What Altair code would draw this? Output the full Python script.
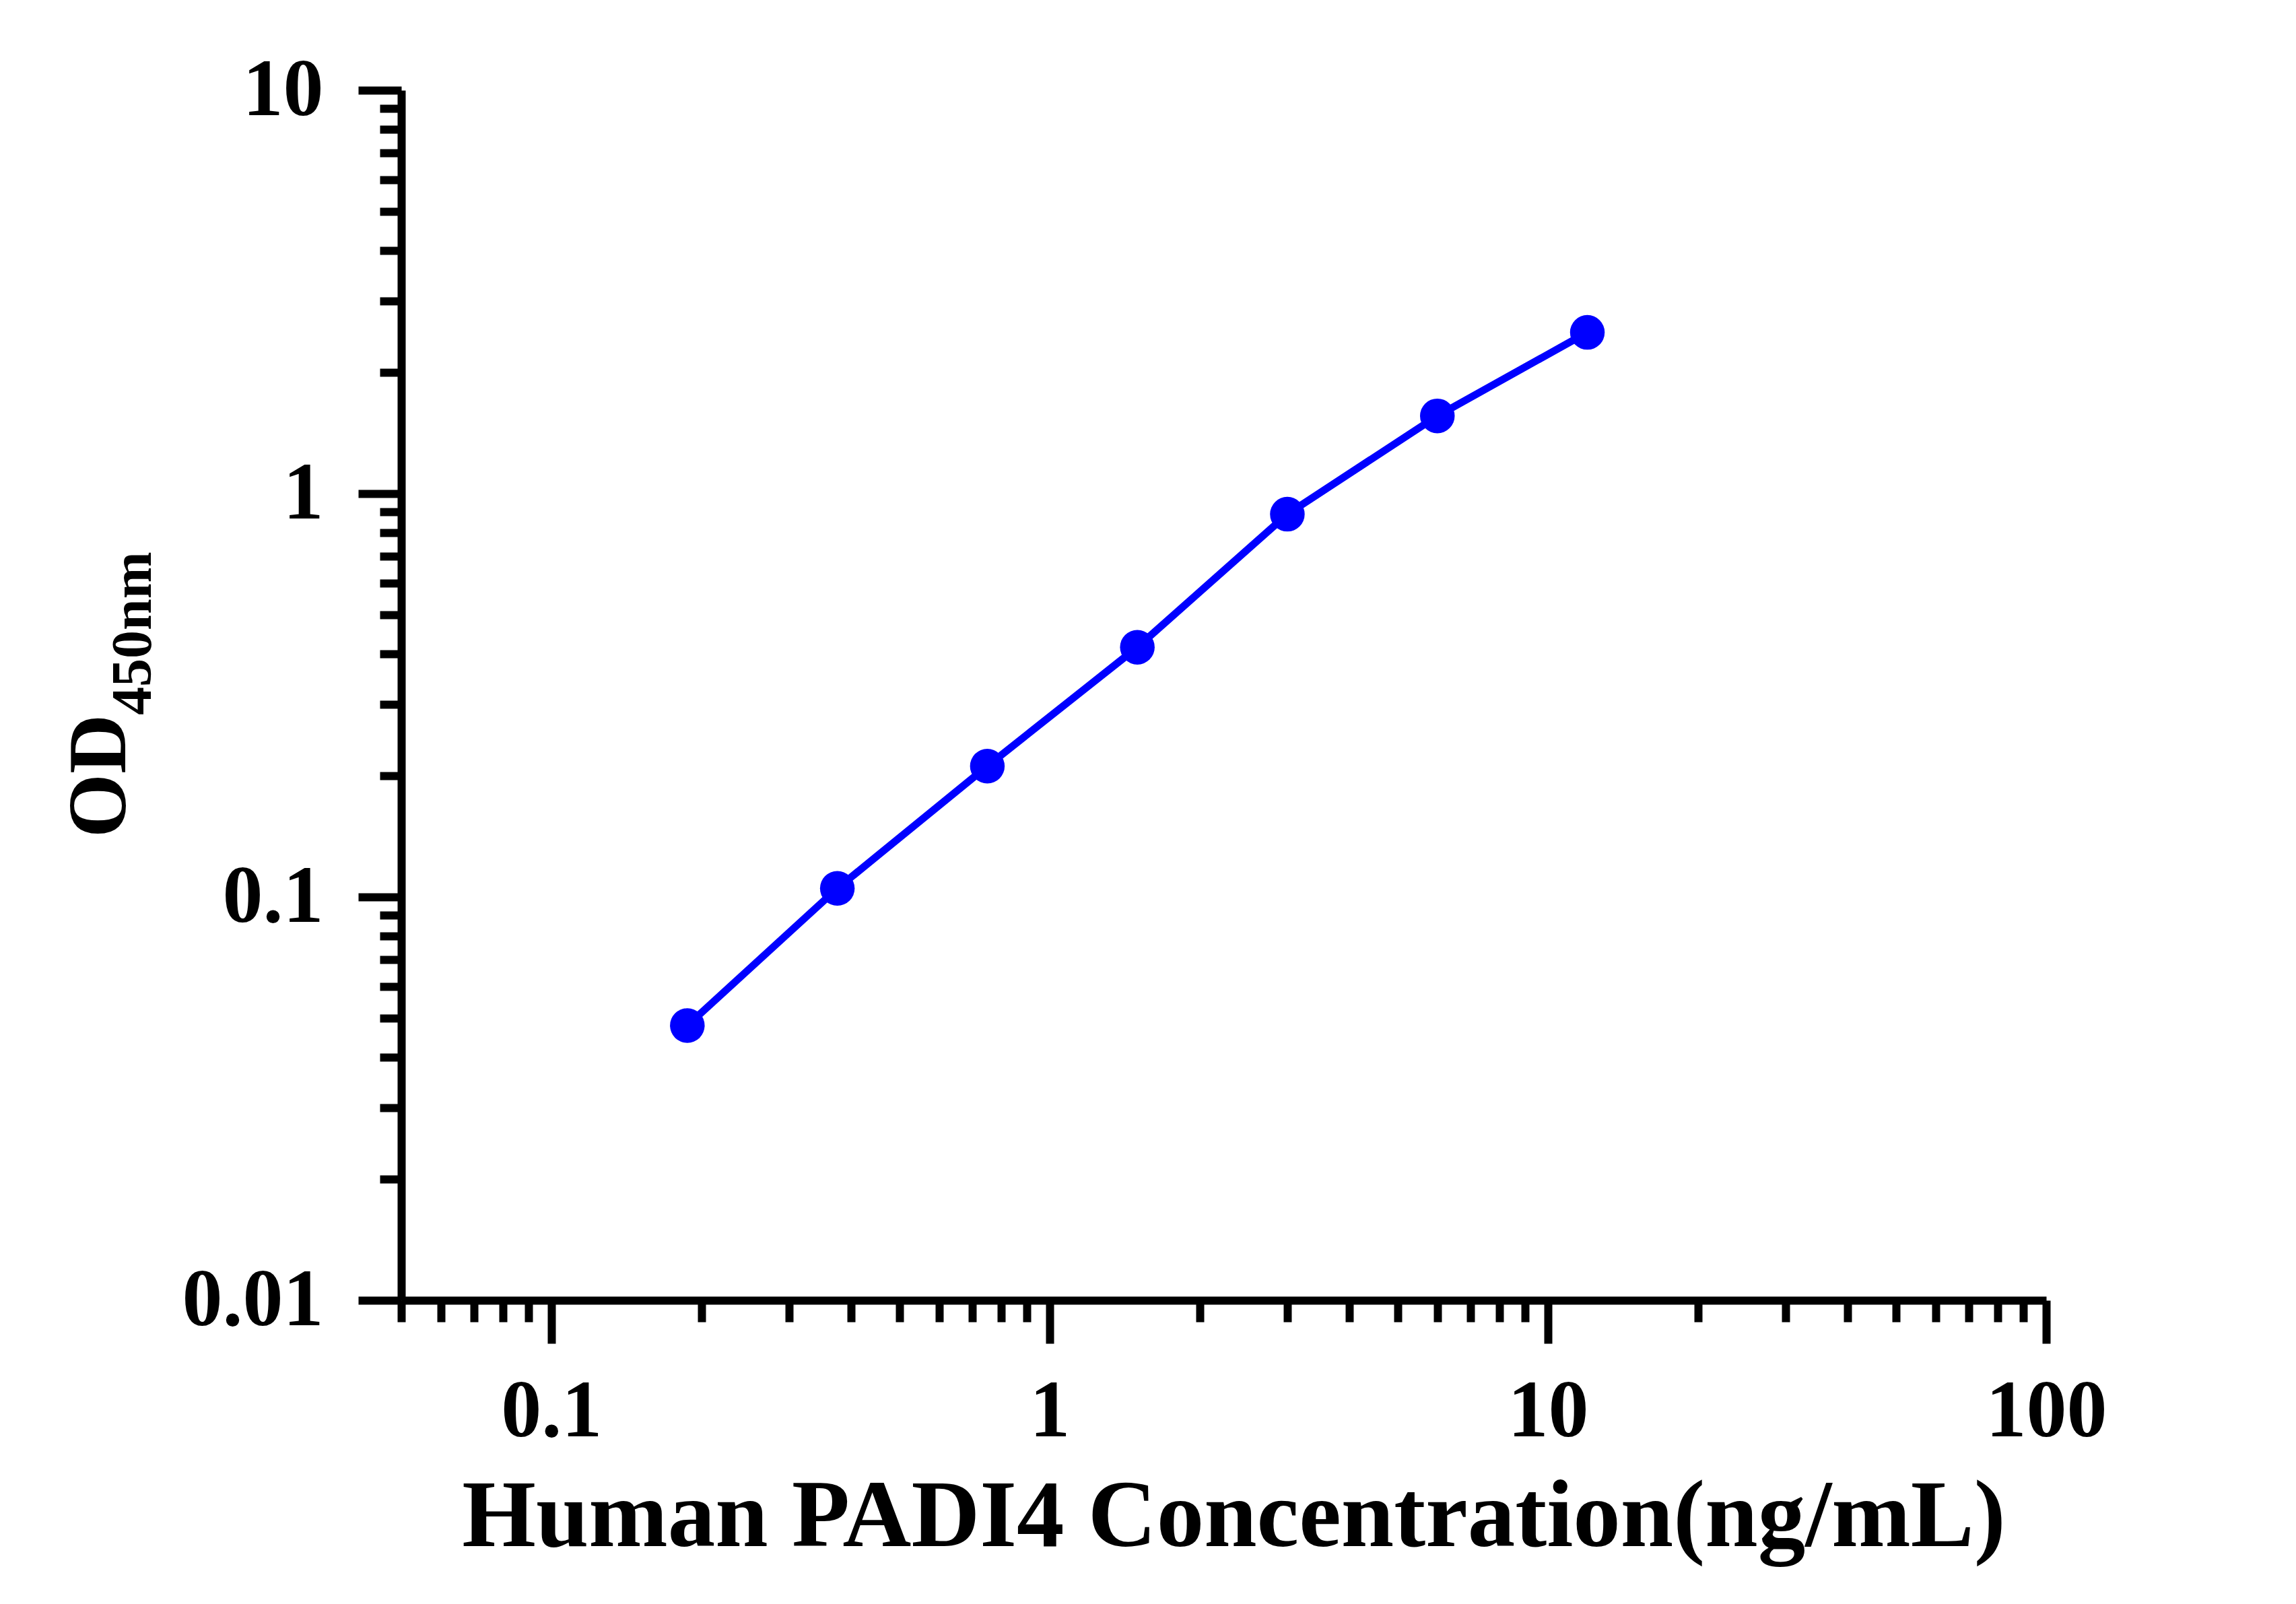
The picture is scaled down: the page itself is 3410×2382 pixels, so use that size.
import altair as alt
import pandas as pd

# ---- data ----
concentration = [0.1875, 0.375, 0.75, 1.5, 3, 6, 12]
od450 = [0.048, 0.105, 0.211, 0.416, 0.889, 1.558, 2.51]

x_ticks = [0.05, 0.06, 0.07, 0.08, 0.09,
           0.1, 0.2, 0.3, 0.4, 0.5, 0.6, 0.7, 0.8, 0.9,
           1, 2, 3, 4, 5, 6, 7, 8, 9,
           10, 20, 30, 40, 50, 60, 70, 80, 90, 100]
y_ticks = [0.01, 0.02, 0.03, 0.04, 0.05, 0.06, 0.07, 0.08, 0.09,
           0.1, 0.2, 0.3, 0.4, 0.5, 0.6, 0.7, 0.8, 0.9,
           1, 2, 3, 4, 5, 6, 7, 8, 9, 10]

x_title = "Human PADI4 Concentration(ng/mL)"
y_title_main = ["OD"]
y_title_sub = ["450nm"]

df = pd.DataFrame({"conc": concentration, "od": od450})

FONT = "Liberation Serif"
BLUE = "#0000FF"
W, H = 2443, 1797
MAJOR = "abs(log(datum.value)/LN10 - round(log(datum.value)/LN10)) < 1e-6"
LABEL = f"({MAJOR}) ? format(datum.value, '~g') : ''"

common_axis = dict(
    grid=False,
    domainColor="black",
    domainWidth=12,
    tickColor="black",
    tickWidth=12,
    tickSize={"condition": {"test": MAJOR, "value": 64}, "value": 32},
    labelExpr=LABEL,
    labelFont=FONT,
    labelFontWeight="bold",
    labelFontSize=120,
    labelColor="black",
    labelOverlap=False,
    labelFlush=False,
    labelBound=False,
    labelLimit=2000,
)

x_axis_kw = dict(common_axis)
x_axis_kw.update(values=x_ticks, labelPadding=42, labelBaseline="top",
                 title=x_title, titleFont=FONT, titleFontWeight="bold",
                 titleFontSize=141, titleColor="black",
                 titleBaseline="alphabetic", titleX=1236, titleY=364,
                 titleAlign="center", titleLimit=4000)
y_axis_kw = dict(common_axis)
y_axis_kw.update(values=y_ticks, labelPadding=52, labelBaseline="middle",
                 title=None)

x_enc = alt.X("conc:Q",
              scale=alt.Scale(type="log", domain=[0.05, 100], nice=False),
              axis=alt.Axis(**x_axis_kw))
y_enc = alt.Y("od:Q",
              scale=alt.Scale(type="log", domain=[0.01, 10], nice=False),
              axis=alt.Axis(**y_axis_kw))

base = alt.Chart(df).encode(x=x_enc, y=y_enc)
line = base.mark_line(color=BLUE, strokeWidth=11)
pts = base.mark_circle(color=BLUE, size=2650, opacity=1)

t_main = alt.Chart(pd.DataFrame({"t": y_title_main})).mark_text(
    font=FONT, fontWeight="bold", fontSize=122, angle=270,
    align="left", baseline="alphabetic", color="black"
).encode(text="t:N", x=alt.value(-410), y=alt.value(1110))

t_sub = alt.Chart(pd.DataFrame({"t": y_title_sub})).mark_text(
    font=FONT, fontWeight="bold", fontSize=84, angle=270,
    align="left", baseline="alphabetic", color="black"
).encode(text="t:N", x=alt.value(-372), y=alt.value(928))

chart = alt.layer(line, pts, t_main, t_sub).properties(
    width=W, height=H,
    autosize=alt.AutoSizeParams(type="none"),
    padding={"left": 588, "top": 126, "right": 300, "bottom": 440},
).configure(background="white", view=alt.ViewConfig(stroke=None))

chart.save("out.html", embed_options={"renderer": "svg", "actions": False})
